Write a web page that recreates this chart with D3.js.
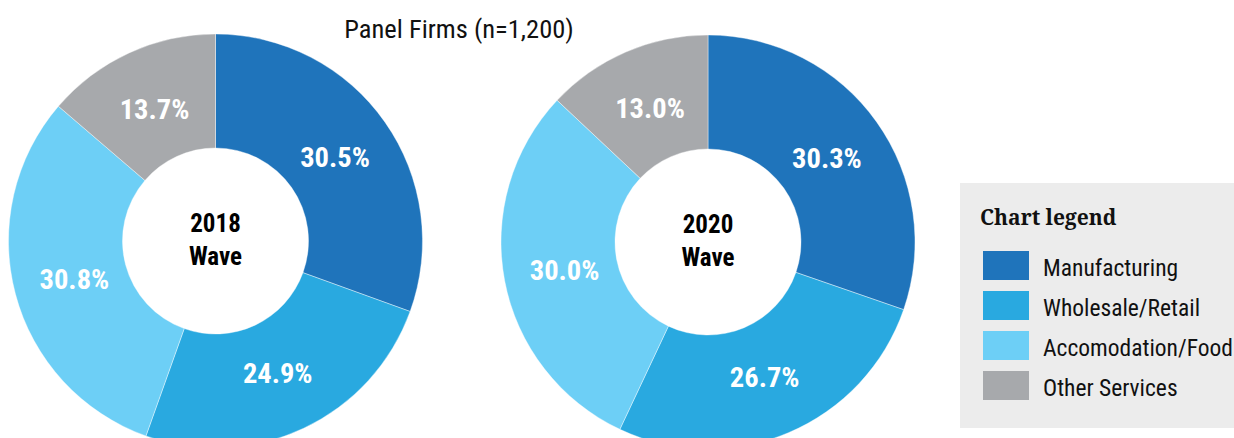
<!DOCTYPE html>
<html>
<head>
<meta charset="utf-8">
<script src="https://cdn.jsdelivr.net/npm/d3@7"></script>
<style>
  html, body { margin: 0; padding: 0; background: #fff; }
  svg { display: block; }
  .pct { font-family: "Roboto Condensed", Roboto, sans-serif; font-weight: 700; fill: #fff; }
  .center { font-family: "Roboto Condensed", Roboto, sans-serif; font-weight: 700; fill: #000; }
</style>
</head>
<body>
<div id="chart"></div>
<script>
// categorie e valori (%)
const categories = ["Manufacturing", "Wholesale/Retail", "Accomodation/Food", "Other Services"];
const colors = ["#1f74bb", "#29a9e0", "#6dcff6", "#a7a9ac"];
const wave2018 = [30.5, 24.9, 30.8, 13.7];
const wave2020 = [30.3, 26.7, 30.0, 13.0];
const waveLabels = ["2018", "2020"];
const title = "Panel Firms (n=1,200)";

const WIDTH = 1234, HEIGHT = 438;
const outerR = 207, innerR = 93, labelR = 146;

const svg = d3.select("#chart").append("svg")
    .attr("width", WIDTH)
    .attr("height", HEIGHT);

svg.append("text")
    .attr("x", 459)
    .attr("y", 38)
    .attr("text-anchor", "middle")
    .style("font-family", "'Roboto Condensed', Roboto, sans-serif")
    .style("font-size", "26.5px")
    .style("fill", "#111")
    .text(title);

const pie = d3.pie().sort(null).value(d => d);
const arc = d3.arc().innerRadius(innerR).outerRadius(outerR);
const labelArc = d3.arc().innerRadius(labelR).outerRadius(labelR);

function drawDonut(values, cx, cy, year) {
    const g = svg.append("g").attr("transform", `translate(${cx},${cy})`);
    const arcs = pie(values);

    g.selectAll("path")
        .data(arcs)
        .enter()
        .append("path")
        .attr("d", arc)
        .attr("fill", (d, i) => colors[i])
        .attr("stroke", "#fff")
        .attr("stroke-width", 0.4);

    g.selectAll("text.pct")
        .data(arcs)
        .enter()
        .append("text")
        .attr("class", "pct")
        .attr("transform", d => `translate(${labelArc.centroid(d)})`)
        .attr("text-anchor", "middle")
        .attr("dy", "0.36em")
        .style("font-size", "28.5px")
        .text(d => d.data.toFixed(1) + "%");

    const c = g.append("text")
        .attr("class", "center")
        .attr("text-anchor", "middle")
        .style("font-size", "25px");
    c.append("tspan").attr("x", 0).attr("y", -9).text(year);
    c.append("tspan").attr("x", 0).attr("y", 24).text("Wave");
}

drawDonut(wave2018, 215.5, 241, waveLabels[0]);
drawDonut(wave2020, 708, 242, waveLabels[1]);

// legenda
const legend = svg.append("g").attr("transform", "translate(960,183)");
legend.append("rect")
    .attr("width", 290)
    .attr("height", 245)
    .attr("fill", "#ececec");
legend.append("text")
    .attr("x", 20)
    .attr("y", 42)
    .style("font-family", "'Noto Serif', 'DejaVu Serif', serif")
    .style("font-weight", "700")
    .style("font-size", "21px")
    .style("fill", "#111")
    .text("Chart legend");

const items = legend.selectAll("g.item")
    .data(categories)
    .enter()
    .append("g")
    .attr("class", "item")
    .attr("transform", (d, i) => `translate(23,${68 + i * 40})`);
items.append("rect")
    .attr("width", 46)
    .attr("height", 29)
    .attr("fill", (d, i) => colors[i]);
items.append("text")
    .attr("x", 60)
    .attr("y", 17)
    .attr("dy", "0.36em")
    .style("font-family", "'Roboto Condensed', Roboto, sans-serif")
    .style("font-size", "23.5px")
    .style("fill", "#111")
    .text(d => d);
</script>
</body>
</html>
